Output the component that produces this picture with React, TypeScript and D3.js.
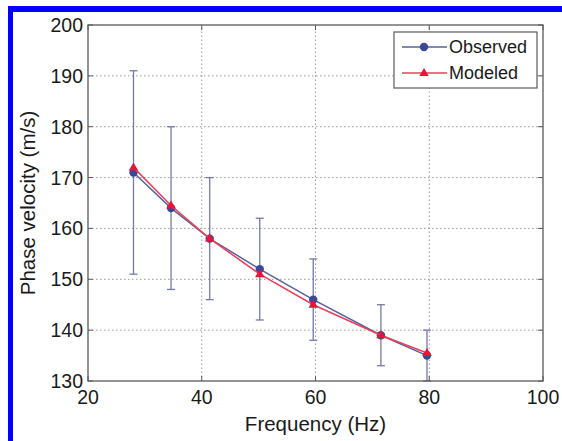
import React from "react";
import * as d3 from "d3";

// frequency (Hz) of each measurement
const freqs = [28, 34.6, 41.4, 50.2, 59.6, 71.5, 79.6];
// phase velocity (m/s)
const observed = [171, 164, 158, 152, 146, 139, 135];
const modeled = [172, 164.5, 158, 151, 145, 139, 135.5];
// error bar limits for the observed curve
const errLow = [151, 148, 146, 142, 138, 133, 130];
const errHigh = [191, 180, 170, 162, 154, 145, 140];

const xTicks = [20, 40, 60, 80, 100];
const yTicks = [130, 140, 150, 160, 170, 180, 190, 200];

const W = 562;
const H = 441;
const m = { left: 88, right: 19, top: 25, bottom: 60 };
const font = "'Liberation Sans', Arial, Helvetica, sans-serif";

export default function App() {
  const x = d3.scaleLinear().domain([20, 100]).range([m.left, W - m.right]);
  const y = d3.scaleLinear().domain([130, 200]).range([H - m.bottom, m.top]);

  const line = d3
    .line<number>()
    .x((_, i) => x(freqs[i]))
    .y((d) => y(d));

  const obsColor = "#5a619f";
  const obsMarker = "#3b4799";
  const modColor = "#ec3f57";
  const modMarker = "#ea1438";
  const errColor = "#7479ab";
  const axisColor = "#5a5a5a";
  const gridColor = "#9a9a9a";

  const x0 = x(20), x1 = x(100), y0 = y(130), y1 = y(200);
  const tri = (cx: number, cy: number, s: number) =>
    `M${cx},${cy - s} L${cx + s * 0.95},${cy + s * 0.6} L${cx - s * 0.95},${cy + s * 0.6} Z`;

  return (
    <div style={{ position: "absolute", left: 0, top: 0 }}>
      <svg width={W} height={H} style={{ display: "block", background: "#fff" }}>
        {/* blue frame */}
        <rect x={8} y={6} width={W - 8} height={6} fill="#0000ff" />
        <rect x={8} y={6} width={5} height={H - 6} fill="#0000ff" />

        {/* grid */}
        <g stroke={gridColor} strokeWidth={1} strokeDasharray="1.5,2.5">
          {xTicks.slice(1, -1).map((t) => (
            <line key={"gx" + t} x1={x(t)} x2={x(t)} y1={y0} y2={y1} />
          ))}
          {yTicks.slice(1, -1).map((t) => (
            <line key={"gy" + t} x1={x0} x2={x1} y1={y(t)} y2={y(t)} />
          ))}
        </g>

        {/* error bars */}
        <g stroke={errColor} strokeWidth={1.3}>
          {freqs.map((f, i) => (
            <g key={"e" + i}>
              <line x1={x(f)} x2={x(f)} y1={y(errLow[i])} y2={y(errHigh[i])} />
              <line x1={x(f) - 4} x2={x(f) + 4} y1={y(errLow[i])} y2={y(errLow[i])} />
              <line x1={x(f) - 4} x2={x(f) + 4} y1={y(errHigh[i])} y2={y(errHigh[i])} />
            </g>
          ))}
        </g>

        {/* observed */}
        <path d={line(observed) || ""} fill="none" stroke={obsColor} strokeWidth={1.5} />
        {observed.map((v, i) => (
          <circle key={"o" + i} cx={x(freqs[i])} cy={y(v)} r={4.2} fill={obsMarker} />
        ))}

        {/* modeled */}
        <path d={line(modeled) || ""} fill="none" stroke={modColor} strokeWidth={1.5} />
        {modeled.map((v, i) => (
          <path key={"m" + i} d={tri(x(freqs[i]), y(v), 5)} fill={modMarker} />
        ))}

        {/* axes box */}
        <rect x={x0} y={y1} width={x1 - x0} height={y0 - y1} fill="none" stroke={axisColor} strokeWidth={1.3} />
        <g stroke={axisColor} strokeWidth={1}>
          {xTicks.map((t) => (
            <g key={"tx" + t}>
              <line x1={x(t)} x2={x(t)} y1={y0} y2={y0 - 5} />
              <line x1={x(t)} x2={x(t)} y1={y1} y2={y1 + 5} />
            </g>
          ))}
          {yTicks.map((t) => (
            <g key={"ty" + t}>
              <line x1={x0} x2={x0 + 5} y1={y(t)} y2={y(t)} />
              <line x1={x1} x2={x1 - 5} y1={y(t)} y2={y(t)} />
            </g>
          ))}
        </g>

        {/* tick labels */}
        <g fontFamily={font} fontSize={19.5} fill="#1a1a1a">
          {xTicks.map((t) => (
            <text key={"lx" + t} x={x(t)} y={y0 + 23} textAnchor="middle">
              {t}
            </text>
          ))}
          {yTicks.map((t) => (
            <text key={"ly" + t} x={x0 - 5} y={y(t) + 7} textAnchor="end">
              {t}
            </text>
          ))}
        </g>

        {/* axis titles */}
        <text x={(x0 + x1) / 2} y={431} textAnchor="middle" fontFamily={font} fontSize={20.5} fill="#1a1a1a">
          Frequency (Hz)
        </text>
        <text
          transform={`translate(35,${(y0 + y1) / 2}) rotate(-90)`}
          textAnchor="middle"
          fontFamily={font}
          fontSize={20.5}
          fill="#1a1a1a"
        >
          Phase velocity (m/s)
        </text>

        {/* legend */}
        <g>
          <rect x={394} y={32} width={143} height={56} fill="#fff" stroke={axisColor} strokeWidth={1.2} />
          <line x1={402} x2={447} y1={47} y2={47} stroke={obsColor} strokeWidth={1.5} />
          <circle cx={424} cy={47} r={4.2} fill={obsMarker} />
          <line x1={402} x2={447} y1={73} y2={73} stroke={modColor} strokeWidth={1.5} />
          <path d={tri(424, 73, 5)} fill={modMarker} />
          <g fontFamily={font} fontSize={18} fill="#1a1a1a">
            <text x={449} y={53}>Observed</text>
            <text x={449} y={79}>Modeled</text>
          </g>
        </g>
      </svg>
    </div>
  );
}
